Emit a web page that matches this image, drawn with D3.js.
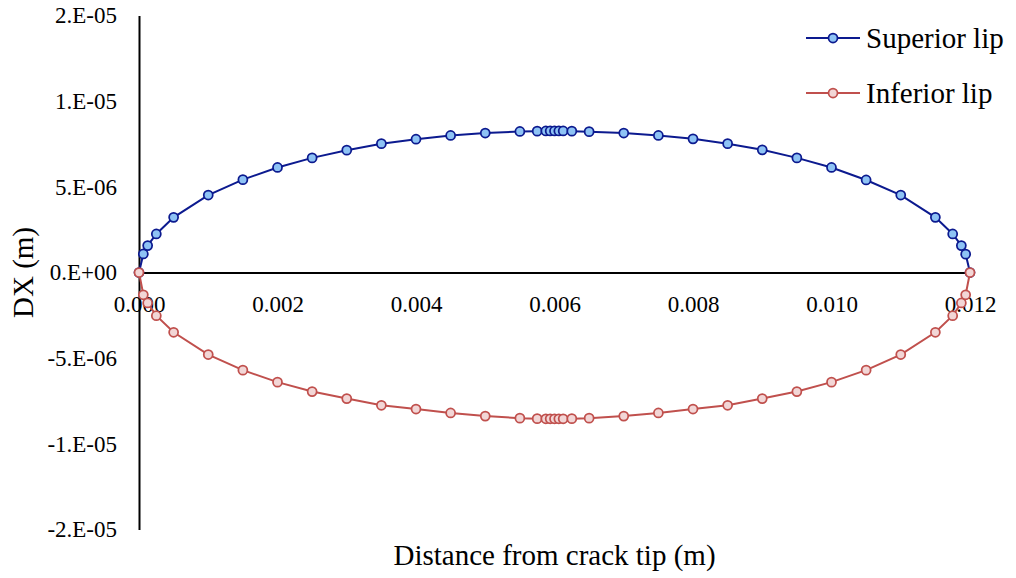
<!DOCTYPE html>
<html>
<head>
<meta charset="utf-8">
<script src="https://cdn.jsdelivr.net/npm/d3@7"></script>
<style>
    html, body { margin: 0; padding: 0; background: #fff; }
    svg text { font-family: "Liberation Serif", "Times New Roman", "DejaVu Serif", serif; }
</style>
</head>
<body>
<div id="chart"></div>
<script>
// distance from the crack tip (m)
var distance = [0, 0.0000625, 0.000125, 0.00025, 0.0005, 0.001, 0.0015, 0.002, 0.0025, 0.003,
    0.0035, 0.004, 0.0045, 0.005, 0.0055, 0.00575, 0.005875, 0.0059375, 0.006, 0.0060625,
    0.006125, 0.00625, 0.0065, 0.007, 0.0075, 0.008, 0.0085, 0.009, 0.0095, 0.01,
    0.0105, 0.011, 0.0115, 0.01175, 0.011875, 0.0119375, 0.012];

// DX opening, in micrometres (x 1e-6 m)
var superiorLip = [0, 1.08, 1.57, 2.25, 3.22, 4.52, 5.42, 6.13, 6.69, 7.14,
    7.52, 7.78, 8.0, 8.14, 8.23, 8.25, 8.26, 8.26, 8.26, 8.26,
    8.26, 8.25, 8.22, 8.14, 8.0, 7.8, 7.52, 7.16, 6.69, 6.13,
    5.4, 4.52, 3.22, 2.25, 1.57, 1.07, 0];
var inferiorLip = [0, -1.30, -1.78, -2.52, -3.49, -4.79, -5.70, -6.40, -6.95, -7.36,
    -7.75, -7.97, -8.2, -8.38, -8.5, -8.53, -8.54, -8.54, -8.54, -8.54,
    -8.54, -8.53, -8.5, -8.38, -8.2, -7.97, -7.75, -7.36, -6.95, -6.40,
    -5.70, -4.79, -3.49, -2.52, -1.78, -1.30, 0];

var xTicks = [0, 0.002, 0.004, 0.006, 0.008, 0.010, 0.012];
var yTicks = [1.5e-5, 1e-5, 5e-6, 0, -5e-6, -1e-5, -1.5e-5];
var yTickLabels = ["2.E-05", "1.E-05", "5.E-06", "0.E+00", "-5.E-06", "-1.E-05", "-2.E-05"];

var seriesNames = ["Superior lip", "Inferior lip"];

var width = 1016, height = 578;
var plot = {left: 139, right: 970, top: 15.5, bottom: 529.5};

var styles = [
    {line: "#0c1a8f", fill: "#8ec3f5"},
    {line: "#c0504d", fill: "#f2d6d6"}
];

var svg = d3.select("#chart").append("svg")
    .attr("width", width)
    .attr("height", height);

var x = d3.scaleLinear().domain([0, 0.012]).range([plot.left, plot.right]);
var y = d3.scaleLinear().domain([-1.5e-5, 1.5e-5]).range([plot.bottom, plot.top]);

// vertical axis (no tick marks, labels on the left)
var yAxis = d3.axisLeft(y)
    .tickValues(yTicks)
    .tickSize(0)
    .tickPadding(22)
    .tickFormat((d, i) => yTickLabels[i]);

var gy = svg.append("g")
    .attr("transform", `translate(${x(0)}, 0)`)
    .call(yAxis)
    .attr("font-family", null)
    .attr("font-size", 23);
gy.select(".domain").attr("stroke", "#000").attr("stroke-width", 2);
gy.selectAll("text").attr("fill", "#000");

// horizontal axis sits on y = 0
var xAxis = d3.axisBottom(x)
    .tickValues(xTicks)
    .tickSize(0)
    .tickPadding(23)
    .tickFormat(d3.format(".3f"));

var gx = svg.append("g")
    .attr("transform", `translate(0, ${y(0)})`)
    .call(xAxis)
    .attr("font-family", null)
    .attr("font-size", 23);
gx.select(".domain").attr("stroke", "#000").attr("stroke-width", 2);
gx.selectAll("text").attr("fill", "#000");

// series
var line = d3.line()
    .x(d => x(d[0]))
    .y(d => y(d[1]));

[superiorLip, inferiorLip].forEach((values, k) => {
    var pts = distance.map((d, i) => [d, values[i] * 1e-6]);
    var g = svg.append("g").attr("class", "series-" + k);
    g.append("path")
        .datum(pts)
        .attr("fill", "none")
        .attr("stroke", styles[k].line)
        .attr("stroke-width", 2)
        .attr("d", line);
    g.selectAll("circle")
        .data(pts).enter()
        .append("circle")
        .attr("cx", d => x(d[0]))
        .attr("cy", d => y(d[1]))
        .attr("r", 4.5)
        .attr("fill", styles[k].fill)
        .attr("stroke", styles[k].line)
        .attr("stroke-width", 1.75);
});

// legend
var legend = svg.append("g").attr("transform", "translate(806, 38)");
seriesNames.forEach((name, k) => {
    var row = legend.append("g").attr("transform", `translate(0, ${k * 55})`);
    row.append("line")
        .attr("x1", 0).attr("x2", 54)
        .attr("stroke", styles[k].line)
        .attr("stroke-width", 2);
    row.append("circle")
        .attr("cx", 27).attr("r", 4.5)
        .attr("fill", styles[k].fill)
        .attr("stroke", styles[k].line)
        .attr("stroke-width", 1.75);
    row.append("text")
        .attr("x", 60)
        .attr("dy", "0.35em")
        .attr("font-size", 29)
        .text(name);
});

// axis titles
svg.append("text")
    .attr("x", (plot.left + plot.right) / 2)
    .attr("y", 565)
    .attr("text-anchor", "middle")
    .attr("font-size", 29)
    .text("Distance from crack tip (m)");

svg.append("text")
    .attr("transform", `translate(33, ${y(0)}) rotate(-90)`)
    .attr("text-anchor", "middle")
    .attr("font-size", 29)
    .text("DX (m)");
</script>
</body>
</html>
